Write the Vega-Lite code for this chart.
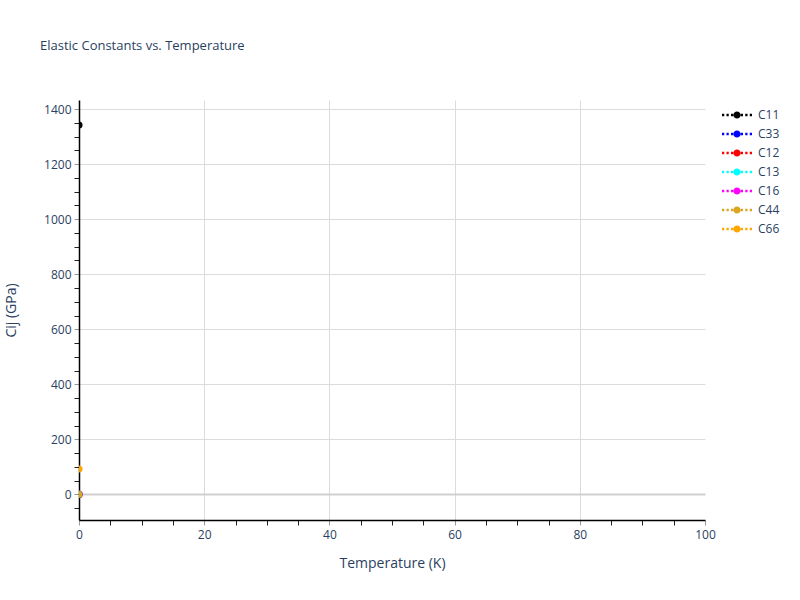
{
  "$schema": "https://vega.github.io/schema/vega-lite/v6.json",
  "width": 626,
  "height": 420,
  "autosize": {"type": "none"},
  "padding": {"left": 79, "top": 100, "right": 95, "bottom": 80},
  "background": "white",
  "title": {
    "text": "Elastic Constants vs. Temperature",
    "anchor": "start",
    "frame": "group",
    "dx": -39,
    "offset": 47,
    "fontSize": 13,
    "fontWeight": "normal",
    "font": "Open Sans",
    "color": "#2a3f5f"
  },
  "config": {
    "view": {"stroke": null},
    "font": "Open Sans",
    "axis": {
      "labelFont": "Open Sans",
      "titleFont": "Open Sans",
      "labelColor": "#2a3f5f",
      "titleColor": "#2a3f5f",
      "labelFontSize": 12,
      "titleFontSize": 14,
      "titleFontWeight": "normal",
      "gridColor": "#dcdcdc",
      "gridWidth": 1,
      "domainColor": "black",
      "domainWidth": 1.5,
      "tickSize": 5
    }
  },
  "data": {
    "values": [
      {"T": 0, "Cij": 1342, "constant": "C11"},
      {"T": 0, "Cij": 0, "constant": "C33"},
      {"T": 0, "Cij": 0, "constant": "C12"},
      {"T": 0, "Cij": 0, "constant": "C13"},
      {"T": 0, "Cij": 0, "constant": "C16"},
      {"T": 0, "Cij": 0, "constant": "C44"},
      {"T": 0, "Cij": 92, "constant": "C66"}
    ]
  },
  "mark": {"type": "point", "filled": true, "size": 50, "opacity": 1, "clip": true},
  "encoding": {
    "x": {
      "field": "T",
      "type": "quantitative",
      "title": "Temperature (K)",
      "scale": {"domain": [0, 100], "nice": false, "zero": false},
      "axis": {
        "values": [0, 5, 10, 15, 20, 25, 30, 35, 40, 45, 50, 55, 60, 65, 70, 75, 80, 85, 90, 95, 100],
        "labelExpr": "datum.value % 20 === 0 ? datum.label : ''",
        "gridOpacity": {"expr": "datum.value % 20 === 0 && datum.value > 0 && datum.value < 100 ? 1 : 0"},
        "tickColor": {"condition": {"test": "datum.value % 20 === 0", "value": "#999999"}, "value": "#222222"},
        "labelPadding": 4,
        "titlePadding": 16,
        "labelFlush": false
      }
    },
    "y": {
      "field": "Cij",
      "type": "quantitative",
      "title": "Cij (GPa)",
      "scale": {"domain": [-93, 1433], "nice": false, "zero": false},
      "axis": {
        "values": [-50, 0, 50, 100, 150, 200, 250, 300, 350, 400, 450, 500, 550, 600, 650, 700, 750, 800, 850, 900, 950, 1000, 1050, 1100, 1150, 1200, 1250, 1300, 1350, 1400],
        "labelExpr": "datum.value % 200 === 0 ? datum.label : ''",
        "gridOpacity": {"expr": "datum.value % 200 === 0 ? 1 : 0"},
        "gridColor": {"condition": {"test": "datum.value === 0", "value": "#d0d0d0"}, "value": "#dcdcdc"},
        "gridWidth": {"condition": {"test": "datum.value === 0", "value": 2}, "value": 1},
        "tickColor": {"condition": {"test": "datum.value % 200 === 0", "value": "#999999"}, "value": "#222222"},
        "format": "d",
        "labelPadding": 3,
        "titlePadding": 25
      }
    },
    "color": {
      "field": "constant",
      "type": "nominal",
      "scale": {
        "domain": ["C11", "C33", "C12", "C13", "C16", "C44", "C66"],
        "range": ["black", "blue", "red", "cyan", "magenta", "goldenrod", "orange"]
      },
      "legend": {
        "title": null,
        "orient": "none",
        "legendX": 643,
        "legendY": 8,
        "symbolType": "M-1,-0.08h0.15v0.16h-0.15zM-0.7,-0.08h0.15v0.16h-0.15zM-0.4,-0.08h0.15v0.16h-0.15zM0.25,-0.08h0.15v0.16h-0.15zM0.55,-0.08h0.15v0.16h-0.15zM0.85,-0.08h0.15v0.16h-0.15zM0.24,0A0.24,0.24 0 1,1 -0.24,0A0.24,0.24 0 1,1 0.24,0z",
        "symbolSize": 900,
        "symbolStrokeWidth": 0,
        "symbolOpacity": 1,
        "labelFont": "Open Sans",
        "labelFontSize": 12,
        "labelColor": "#2a3f5f",
        "clipHeight": 14,
        "rowPadding": 5,
        "labelOffset": 6
      }
    },
    "order": {"field": "constant", "type": "nominal"}
  }
}
